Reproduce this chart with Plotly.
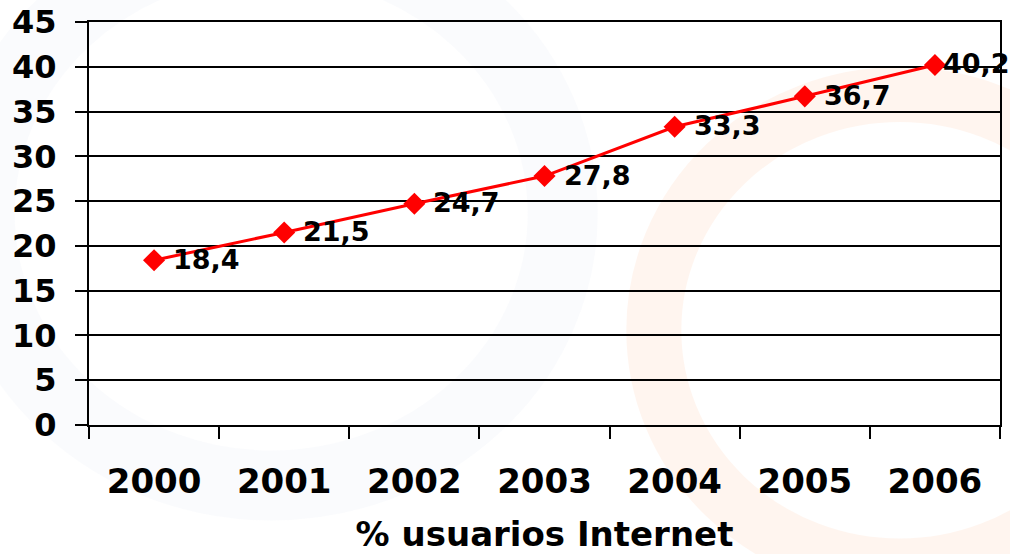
import plotly.graph_objects as go

years = ["2000", "2001", "2002", "2003", "2004", "2005", "2006"]
values = [18.4, 21.5, 24.7, 27.8, 33.3, 36.7, 40.2]
labels = ["18,4", "21,5", "24,7", "27,8", "33,3", "36,7", "40,2"]
y_ticks = [0, 5, 10, 15, 20, 25, 30, 35, 40, 45]
title = "% usuarios Internet"

FONT = "DejaVu Sans"

fig = go.Figure()
fig.add_trace(go.Scatter(
    x=years, y=values, mode="lines+markers",
    line=dict(color="#ff0000", width=3),
    marker=dict(symbol="diamond", size=17, color="#ff0000"),
    cliponaxis=False, showlegend=False, hoverinfo="skip",
))

for i, (v, lab) in enumerate(zip(values, labels)):
    last = i == len(values) - 1
    fig.add_annotation(
        x=i, y=v, xref="x", yref="y", text="<b>" + lab + "</b>", showarrow=False,
        xanchor="left", yanchor="middle",
        xshift=6 if last else 17, yshift=1,
        font=dict(family=FONT, size=27, color="black"),
    )

# faint watermark rings
fig.add_shape(type="circle", xref="paper", yref="paper", layer="below",
              x0=0.62, x1=1.16, y0=-0.35, y1=0.82,
              line=dict(color="rgba(255,170,120,0.12)", width=55))
fig.add_shape(type="circle", xref="paper", yref="paper", layer="below",
              x0=-0.12, x1=0.52, y0=-0.15, y1=1.2,
              line=dict(color="rgba(150,170,220,0.05)", width=70))

fig.update_layout(
    width=1010, height=554,
    margin=dict(l=89, r=10, t=22, b=129, autoexpand=False),
    paper_bgcolor="white", plot_bgcolor="rgba(0,0,0,0)",
    font=dict(family=FONT, color="black"),
    xaxis=dict(
        type="category", range=[-0.5, 6.5],
        tickson="boundaries", ticks="outside", ticklen=12,
        tickcolor="black", tickwidth=2, showgrid=False,
        showline=True, linecolor="black", linewidth=2, mirror=True,
        zeroline=False, automargin=False,
        tickfont=dict(family=FONT, size=34, color="black", weight="bold"),
        ticklabelstandoff=25,
        title=dict(text=title, standoff=33,
                   font=dict(family=FONT, size=34, color="black", weight="bold")),
    ),
    yaxis=dict(
        range=[0, 45], tickvals=y_ticks, ticks="outside", ticklen=12,
        tickcolor="black", tickwidth=2,
        showgrid=True, gridcolor="black", gridwidth=2,
        showline=True, linecolor="black", linewidth=2, mirror=True,
        zeroline=False, automargin=False,
        tickfont=dict(family=FONT, size=32, color="black", weight="bold"),
        ticklabelstandoff=12,
    ),
)

fig.write_html("out.html", config={"displayModeBar": False},
               post_script="document.body.style.margin='0';")
